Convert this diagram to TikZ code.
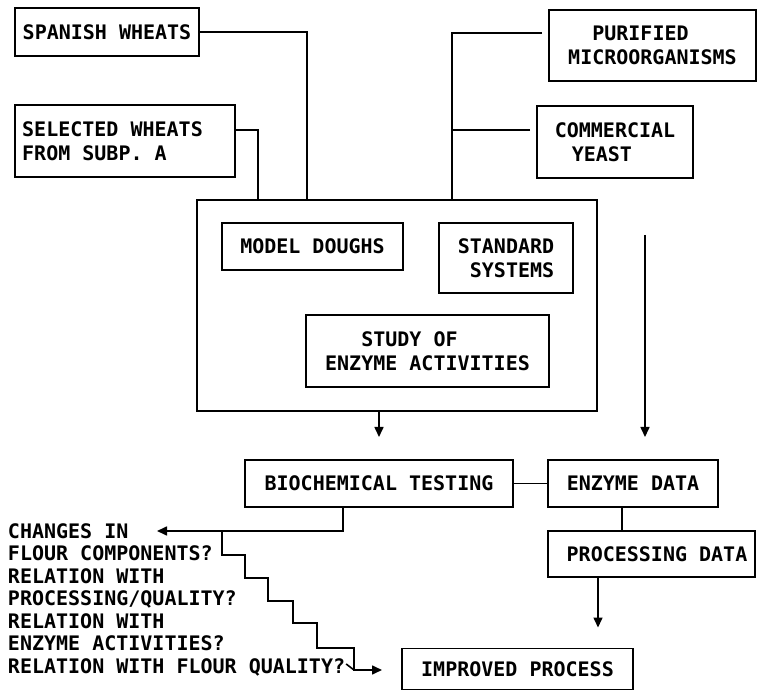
\documentclass[tikz,border=0pt]{standalone}
\usepackage{fontspec}
\setmonofont{DejaVu Sans Mono}
\usetikzlibrary{arrows.meta,calc}
\begin{document}
\begin{tikzpicture}[x=1pt,y=-1pt,
  every node/.style={font=\ttfamily\bfseries\fontsize{20}{24}\selectfont,
                     inner sep=0pt, outer sep=0pt},
  box/.style={draw, line width=1.6pt, align=center},
  wire/.style={line width=1.6pt},
  flow/.style={wire, -{Triangle[length=10pt,width=9pt]}},
  qtext/.style={anchor=base west}]
\useasboundingbox (0,0) rectangle (758,692);

% input boxes
\node[box, minimum width=184pt, minimum height=48pt] (spanish) at (107,32) {SPANISH WHEATS};
\node[box, minimum width=220pt, minimum height=72pt, align=left]
  (selected) at (125,141) {SELECTED WHEATS\kern25pt\\FROM SUBP. A};
\node[box, minimum width=207pt, minimum height=71pt, align=left]
  (purified) at (652.5,45.5) {\phantom{XX}PURIFIED\\MICROORGANISMS};
\node[box, minimum width=156pt, minimum height=72pt, align=left]
  (commercial) at (615,142) {COMMERCIAL\\\hspace{17pt}YEAST};

% experimental block
\node[box, minimum width=400pt, minimum height=211pt] (big) at (397,305.5) {};
\node[box, minimum width=181pt, minimum height=47pt] (model) at (312.5,246.5) {MODEL DOUGHS};
\node[box, minimum width=134pt, minimum height=70pt, align=left]
  (standard) at (506,258) {STANDARD\\\phantom{X}SYSTEMS};
\node[box, minimum width=243pt, minimum height=72pt, align=left]
  (study) at (427.5,351) {\phantom{XXX}STUDY OF\\ENZYME ACTIVITIES};

% results
\node[box, minimum width=268pt, minimum height=47pt] (biochem) at (379,483.5) {BIOCHEMICAL TESTING};
\node[box, minimum width=170pt, minimum height=47pt] (enzyme) at (633,483.5) {ENZYME DATA};
\node[box, minimum width=207pt, minimum height=46pt] (processing) at (651.5,554) {\hspace{11pt}PROCESSING DATA};
\node[box, minimum width=231pt, minimum height=41pt] (improved) at (517.5,669) {IMPROVED PROCESS};

% questions
\node[qtext] (q1) at (8,538)   {CHANGES IN};
\node[qtext] (q2) at (8,560.5) {FLOUR COMPONENTS?};
\node[qtext] (q3) at (8,583)   {RELATION WITH};
\node[qtext] (q4) at (8,605.5) {PROCESSING/QUALITY?};
\node[qtext] (q5) at (8,628)   {RELATION WITH};
\node[qtext] (q6) at (8,650.5) {ENZYME ACTIVITIES?};
\node[qtext] (q7) at (8,673)   {RELATION WITH FLOUR QUALITY?};

% helper coordinates
\coordinate (sx) at (307,0);
\coordinate (wx) at (258,0);
\coordinate (rx) at (452,0);
\coordinate (bx) at (343,0);
\coordinate (ex) at (622,0);
\coordinate (px) at (598,0);
\coordinate (ax) at (645,0);
\coordinate (edtop) at (645,235);
\coordinate (pj) at ($(purified.west)+(-7,-12.5)$);
\coordinate (cj) at ($(commercial.west)+(-7,-12)$);
\coordinate (qtip) at (157,531);
\coordinate (stair) at (222,531);
\coordinate (s1) at (245,555);
\coordinate (s2) at (268,578);
\coordinate (s3) at (293,601);
\coordinate (s4) at (317,623);
\coordinate (s5) at (354,648);
\coordinate (send) at (382,670);

% connectors into the experimental block
\draw[wire] (spanish.east) -| (big.north -| sx);
\draw[wire] ($(selected.east)+(0,-11)$) -| (big.north -| wx);
\draw[wire] (pj) -| (big.north -| rx);
\draw[wire] (cj) -- (cj -| rx);

% flows downwards
\draw[flow, shorten >=23pt] (big.south -| biochem.north) -- (biochem.north);
\draw[flow, shorten >=23pt] (edtop) -- (enzyme.north -| ax);
\draw[wire] (biochem.east) -- (enzyme.west);
\draw[wire] (enzyme.south -| ex) -- (processing.north -| ex);
\draw[flow, shorten >=21pt] (processing.south -| px) -- (improved.north -| px);

% questions and staircase
\draw[flow] (biochem.south -| bx) |- (qtip);
\draw[flow] (stair) |- (s1) |- (s2) |- (s3) |- (s4) |- (s5) |- (send);
\draw[wire] ($(q7.east)+(1,-3)$) -- (s5 |- send);
\end{tikzpicture}
\end{document}
